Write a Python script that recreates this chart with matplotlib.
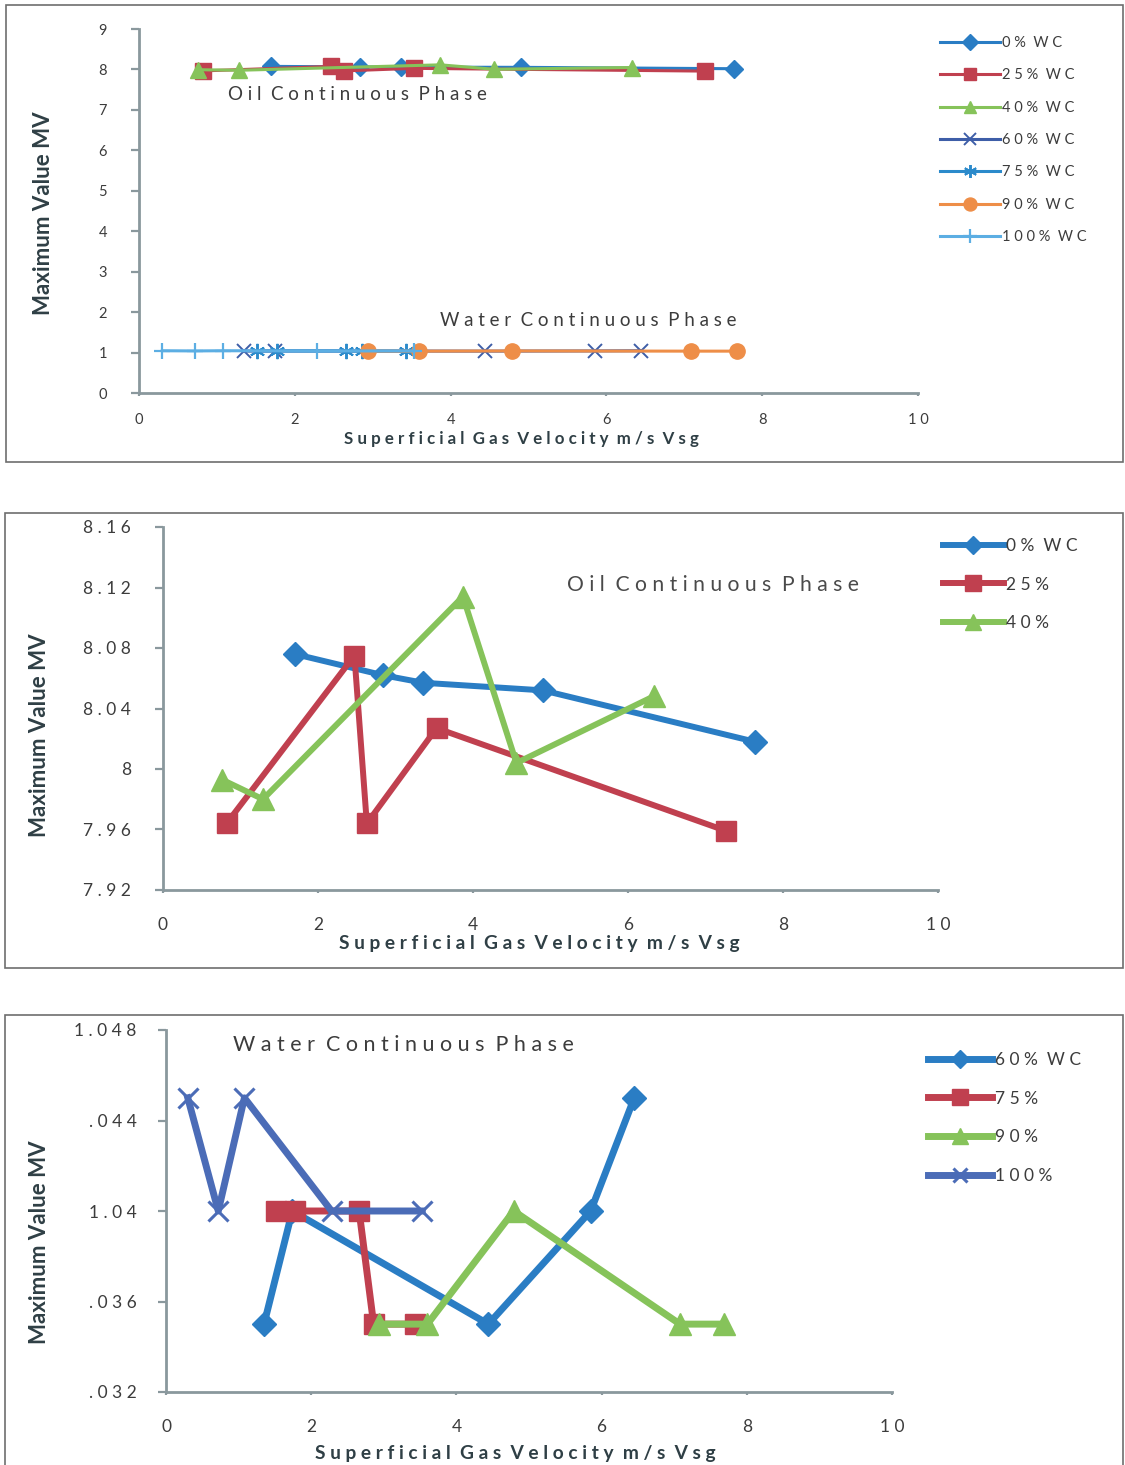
"""Maximum value MV against superficial gas velocity for oil and water continuous phases."""

import matplotlib

matplotlib.use("Agg")
import matplotlib.pyplot as plt
from matplotlib.patches import Rectangle

W, H = 1125, 1465

# superficial gas velocity (m/s) and maximum value per water cut
vsg_0 = [1.70, 2.84, 3.36, 4.90, 7.64]
mv_0 = [8.076, 8.062, 8.057, 8.052, 8.018]
vsg_25 = [0.82, 2.47, 2.63, 3.53, 7.27]
mv_25 = [7.964, 8.075, 7.964, 8.027, 7.959]
vsg_40 = [0.76, 1.29, 3.87, 4.56, 6.33]
mv_40 = [7.993, 7.980, 8.114, 8.004, 8.048]
vsg_60 = [1.35, 1.74, 4.44, 5.85, 6.45]
mv_60 = [1.035, 1.040, 1.035, 1.040, 1.045]
vsg_75 = [1.52, 1.77, 2.66, 2.86, 3.43]
mv_75 = [1.040, 1.040, 1.040, 1.035, 1.035]
vsg_90 = [2.94, 3.60, 4.79, 7.08, 7.68]
mv_90 = [1.035, 1.035, 1.040, 1.035, 1.035]
vsg_100 = [0.30, 0.72, 1.08, 2.28, 3.53]
mv_100 = [1.045, 1.040, 1.045, 1.040, 1.040]

x_ticks = [0, 2, 4, 6, 8, 10]
y_ticks_all = [0, 1, 2, 3, 4, 5, 6, 7, 8, 9]
y_ticks_oil = [7.92, 7.96, 8.00, 8.04, 8.08, 8.12, 8.16]
y_labels_oil = ["7.92", "7.96", "8", "8.04", "8.08", "8.12", "8.16"]
y_ticks_water = [1.032, 1.036, 1.040, 1.044, 1.048]
y_labels_water = [".032", ".036", "1.04", ".044", "1.048"]

plt.rcParams["font.family"] = ["Lato", "DejaVu Sans"]

TICK_COLOR = "#3c3c3c"
LABEL_COLOR = "#2f3f45"
SPINE_COLOR = "#8a989d"


def track(s: str) -> str:
    # loose letter spacing, as in the original sheet
    return "  ".join(" ".join(word) for word in s.split(" "))


def fx(x):
    return x / W


def fy(y):
    return 1 - y / H


def add_axes(fig, left, top, right, bottom):
    return fig.add_axes([fx(left), fy(bottom), (right - left) / W, (bottom - top) / H])


def style_axes(ax, ylim, yticks, ylabels, tick_size, xpad, ypad):
    ax.set_xlim(0, 10)
    ax.set_ylim(*ylim)
    ax.set_xticks(x_ticks)
    ax.set_xticklabels([track(str(t)) for t in x_ticks])
    ax.set_yticks(yticks)
    ax.set_yticklabels([track(t) for t in ylabels])
    for side in ("top", "right"):
        ax.spines[side].set_visible(False)
    for side in ("left", "bottom"):
        ax.spines[side].set_color(SPINE_COLOR)
        ax.spines[side].set_linewidth(2.0)
    ax.tick_params(axis="y", direction="out", length=6, width=1.6, color=SPINE_COLOR,
                   labelsize=tick_size, labelcolor=TICK_COLOR, pad=ypad)
    ax.tick_params(axis="x", direction="out", length=2.5, width=1.6, color=SPINE_COLOR,
                   labelsize=tick_size, labelcolor=TICK_COLOR, pad=xpad)
    ax.patch.set_alpha(0)


def legend(ax, x, y, size, spacing, handlelength, markerscale=1.0):
    ax.legend(loc="upper left", bbox_to_anchor=(fx(x), fy(y)), bbox_transform=ax.figure.transFigure,
              frameon=False, fontsize=size, labelspacing=spacing, handlelength=handlelength,
              handletextpad=0.15, borderpad=0, borderaxespad=0, labelcolor=TICK_COLOR,
              markerscale=markerscale)


fig = plt.figure(figsize=(W / 100, H / 100), dpi=100)

# panel borders
for left, top, right, bottom in [(6, 5, 1123, 462), (5, 513, 1123, 968), (5, 1015, 1123, 1480)]:
    fig.patches.append(Rectangle((fx(left), fy(bottom)), (right - left) / W, (bottom - top) / H,
                                 transform=fig.transFigure, fill=False, edgecolor="#6e6e6e",
                                 linewidth=1.2))

# --- all water cuts ---
ax1 = add_axes(fig, 139, 29, 918, 393)
lw1, ms1 = 2.2, 10
ax1.plot(vsg_0, mv_0, color="#2a7dc4", marker="D", ms=ms1 - 1, lw=lw1, label=track("0% WC"))
ax1.plot(vsg_25, mv_25, color="#c0404f", marker="s", ms=ms1 + 1, lw=lw1, label=track("25% WC"))
ax1.plot(vsg_40, mv_40, color="#86c35a", marker="^", ms=ms1 + 1, lw=lw1, label=track("40% WC"))
ax1.plot(vsg_60, mv_60, color="#3e5ea8", marker="x", ms=ms1, mew=1.4, lw=lw1, label=track("60% WC"))
ax1.plot(vsg_75, mv_75, color="#2b8acb", marker=(6, 2, 0), ms=ms1 + 1, mew=1.4, lw=lw1,
         label=track("75% WC"))
ax1.plot(vsg_90, mv_90, color="#ee8e48", marker="o", ms=ms1 + 1, lw=lw1, label=track("90% WC"))
ax1.plot(vsg_100, mv_100, color="#5caee3", marker="+", ms=ms1 + 2, mew=1.6, lw=lw1,
         label=track("100% WC"))
style_axes(ax1, (0, 9), y_ticks_all, [str(t) for t in y_ticks_all], 10.5, 12, 17)
legend(ax1, 940, 36, 10.5, 1.26, 4.1, markerscale=0.85)
fig.text(fx(228), fy(94), track("Oil Continuous Phase"), fontsize=13.5, color=TICK_COLOR,
         va="center", ha="left")
fig.text(fx(440), fy(320), track("Water Continuous Phase"), fontsize=13.5, color=TICK_COLOR,
         va="center", ha="left")
fig.text(fx(521), fy(439), track("Superficial Gas Velocity m/s Vsg"), fontsize=12.2,
         weight="bold", color=LABEL_COLOR, ha="center", va="center")
fig.text(fx(44), fy(213), "Maximum Value MV", fontsize=16, weight="bold", color=LABEL_COLOR,
         rotation=90, ha="center", va="center")

# --- oil continuous phase ---
ax2 = add_axes(fig, 163, 527, 938, 890)
lw2 = 4.3
ax2.plot(vsg_0, mv_0, color="#2a7dc4", marker="D", ms=12, lw=lw2, label=track("0% WC"))
ax2.plot(vsg_25, mv_25, color="#c0404f", marker="s", ms=15, lw=lw2, label=track("25%"))
ax2.plot(vsg_40, mv_40, color="#86c35a", marker="^", ms=16, lw=lw2, label=track("40%"))
style_axes(ax2, (7.92, 8.16), y_ticks_oil, y_labels_oil, 12.5, 17, 17)
legend(ax2, 943, 538, 12.5, 1.3, 3.5, markerscale=0.75)
fig.text(fx(567), fy(585), track("Oil Continuous Phase"), fontsize=15.2, color="#4a4a4a",
         va="center", ha="left")
fig.text(fx(539), fy(944), track("Superficial Gas Velocity m/s Vsg"), fontsize=13.8,
         weight="bold", color=LABEL_COLOR, ha="center", va="center")
fig.text(fx(40), fy(735), "Maximum Value MV", fontsize=16, weight="bold", color=LABEL_COLOR,
         rotation=90, ha="center", va="center")

# --- water continuous phase ---
ax3 = add_axes(fig, 166, 1030, 892, 1392)
lw3 = 5.0
ax3.plot(vsg_60, mv_60, color="#2a7dc4", marker="D", ms=12, lw=lw3, label=track("60% WC"))
ax3.plot(vsg_75, mv_75, color="#c0404f", marker="s", ms=15, lw=lw3, label=track("75%"))
ax3.plot(vsg_90, mv_90, color="#86c35a", marker="^", ms=16, lw=lw3, label=track("90%"))
ax3.plot(vsg_100, mv_100, color="#4b6cb7", marker="x", ms=14, mew=2.2, lw=lw3,
         label=track("100%"))
style_axes(ax3, (1.032, 1.048), y_ticks_water, y_labels_water, 12.5, 17, 15)
legend(ax3, 928, 1052, 12.5, 1.3, 3.7, markerscale=0.75)
fig.text(fx(233), fy(1045), track("Water Continuous Phase"), fontsize=15.5, color=TICK_COLOR,
         va="center", ha="left")
fig.text(fx(515), fy(1453), track("Superficial Gas Velocity m/s Vsg"), fontsize=13.8,
         weight="bold", color=LABEL_COLOR, ha="center", va="center")
fig.text(fx(40), fy(1242), "Maximum Value MV", fontsize=16, weight="bold", color=LABEL_COLOR,
         rotation=90, ha="center", va="center")

fig.savefig("out.png", dpi=100)
plt.close(fig)
